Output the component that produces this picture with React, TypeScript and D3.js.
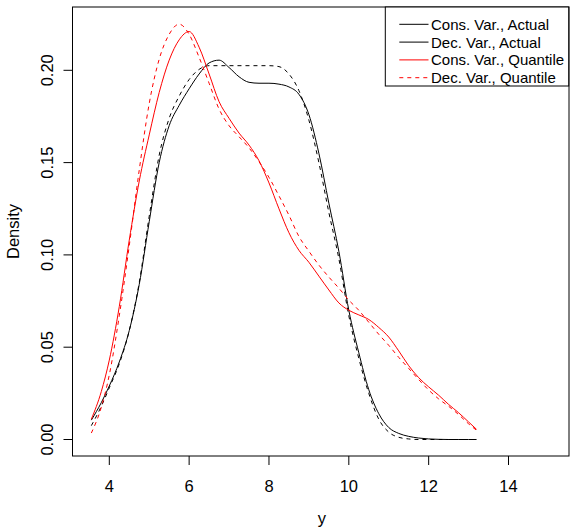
import React from "react";
import * as d3 from "d3";

const xGrid = [3.55, 3.8, 4.0, 4.25, 4.5, 4.75, 5.0, 5.25, 5.5, 5.75, 6.0, 6.25, 6.5, 6.75, 7.0, 7.25, 7.5, 7.75, 8.0, 8.25, 8.5, 8.75, 9.0, 9.25, 9.5, 9.75, 10.0, 10.25, 10.5, 10.75, 11.0, 11.25, 11.5, 11.75, 12.0, 12.25, 12.5, 12.75, 13.0, 13.2];

const consActual = [0.0105, 0.02, 0.029, 0.042, 0.059, 0.084, 0.118, 0.15, 0.17, 0.181, 0.19, 0.198, 0.204, 0.2055, 0.2015, 0.1965, 0.1935, 0.193, 0.193, 0.1925, 0.191, 0.187, 0.176, 0.155, 0.128, 0.102, 0.07, 0.047, 0.027, 0.014, 0.0065, 0.0033, 0.0017, 0.0008, 0.0003, 0.0001, 0, 0, 0, 0];

const decActual = [0.0075, 0.018, 0.028, 0.041, 0.059, 0.085, 0.121, 0.154, 0.174, 0.186, 0.195, 0.2005, 0.2025, 0.2025, 0.2025, 0.2025, 0.2025, 0.2025, 0.2025, 0.202, 0.198, 0.189, 0.173, 0.15, 0.123, 0.098, 0.067, 0.044, 0.025, 0.011, 0.004, 0.0012, 0.0003, 0, 0, 0, 0, 0, 0, 0];

const consQuant = [0.011, 0.026, 0.043, 0.072, 0.108, 0.14, 0.165, 0.188, 0.2055, 0.2165, 0.221, 0.2125, 0.198, 0.183, 0.174, 0.166, 0.1595, 0.151, 0.139, 0.125, 0.112, 0.1025, 0.096, 0.0885, 0.081, 0.074, 0.07, 0.0675, 0.065, 0.0607, 0.0555, 0.048, 0.04, 0.0335, 0.0285, 0.024, 0.019, 0.0145, 0.0095, 0.0055];

const decQuant = [0.0035, 0.0175, 0.035, 0.067, 0.105, 0.146, 0.182, 0.206, 0.2195, 0.225, 0.2195, 0.207, 0.193, 0.179, 0.17, 0.164, 0.158, 0.1505, 0.142, 0.132, 0.1215, 0.11, 0.102, 0.0945, 0.088, 0.082, 0.0755, 0.07, 0.0635, 0.057, 0.051, 0.0445, 0.0385, 0.0325, 0.0268, 0.022, 0.018, 0.0135, 0.0085, 0.005];

const xTicks = [4, 6, 8, 10, 12, 14];
const yTicks = [0, 0.05, 0.1, 0.15, 0.2];
const yTickLabels = ["0.00", "0.05", "0.10", "0.15", "0.20"];

const legendLabels = ["Cons. Var., Actual", "Dec. Var., Actual", "Cons. Var., Quantile", "Dec. Var., Quantile"];
const legendColors = ["black", "black", "red", "red"];
const legendDash = ["none", "none", "none", "4,4"];

const seriesList = [
  { values: consActual, color: "black", dash: "none" },
  { values: decActual, color: "black", dash: "4,4" },
  { values: consQuant, color: "red", dash: "none" },
  { values: decQuant, color: "red", dash: "4,4" },
];

const W = 573;
const H = 528;
const box = { left: 72.5, top: 7, right: 569, bottom: 456 };
const FONT = "'Liberation Sans', Arial, Helvetica, sans-serif";
const AXIS_FS = 16.5;
const LEGEND_FS = 15;

export default function App() {
  const x = d3.scaleLinear().domain([4, 14]).range([109.3, 508.5]);
  const y = d3.scaleLinear().domain([0, 0.2]).range([439.5, 70.3]);

  const line = d3
    .line<number>()
    .x((_, i) => x(xGrid[i]))
    .y((d) => y(d))
    .curve(d3.curveMonotoneX);

  const legend = { left: 385.3, top: 7, right: 568.7, bottom: 86 };
  const rowY = (i: number) => 24.3 + i * 17.8;

  return (
    <svg
      width={W}
      height={H}
      style={{ position: "absolute", left: 0, top: 0, background: "white" }}
      fontFamily={FONT}
    >
      <rect x={0} y={0} width={W} height={H} fill="white" />
      {seriesList.map((s, k) => (
        <path
          key={k}
          d={line(s.values) || ""}
          fill="none"
          stroke={s.color}
          strokeWidth={1}
          strokeDasharray={s.dash}
        />
      ))}
      <rect
        x={box.left}
        y={box.top}
        width={box.right - box.left}
        height={box.bottom - box.top}
        fill="none"
        stroke="black"
        strokeWidth={1}
      />
      {xTicks.map((t) => (
        <g key={"xt" + t}>
          <line x1={x(t)} x2={x(t)} y1={box.bottom} y2={box.bottom + 9} stroke="black" />
          <text x={x(t)} y={491.5} textAnchor="middle" fill="black" fontSize={AXIS_FS}>
            {t}
          </text>
        </g>
      ))}
      {yTicks.map((t, i) => (
        <g key={"yt" + i}>
          <line x1={box.left - 9} x2={box.left} y1={y(t)} y2={y(t)} stroke="black" />
          <text
            transform={`translate(52.6,${y(t)}) rotate(-90)`}
            textAnchor="middle"
            fill="black"
            fontSize={AXIS_FS}
          >
            {yTickLabels[i]}
          </text>
        </g>
      ))}
      <text x={(box.left + box.right) / 2 + 1} y={523.5} textAnchor="middle" fill="black" fontSize={AXIS_FS}>
        y
      </text>
      <text
        transform={`translate(19,${(box.top + box.bottom) / 2}) rotate(-90)`}
        textAnchor="middle"
        fill="black"
        fontSize={AXIS_FS}
      >
        Density
      </text>
      <rect
        x={legend.left}
        y={legend.top}
        width={legend.right - legend.left}
        height={legend.bottom - legend.top}
        fill="white"
        stroke="black"
        strokeWidth={1}
      />
      {legendLabels.map((lab, i) => (
        <g key={"lg" + i}>
          <line
            x1={399.3}
            x2={428.5}
            y1={rowY(i)}
            y2={rowY(i)}
            stroke={legendColors[i]}
            strokeWidth={1}
            strokeDasharray={legendDash[i]}
          />
          <text x={431} y={rowY(i) + 5.4} fill="black" fontSize={LEGEND_FS}>
            {lab}
          </text>
        </g>
      ))}
    </svg>
  );
}
